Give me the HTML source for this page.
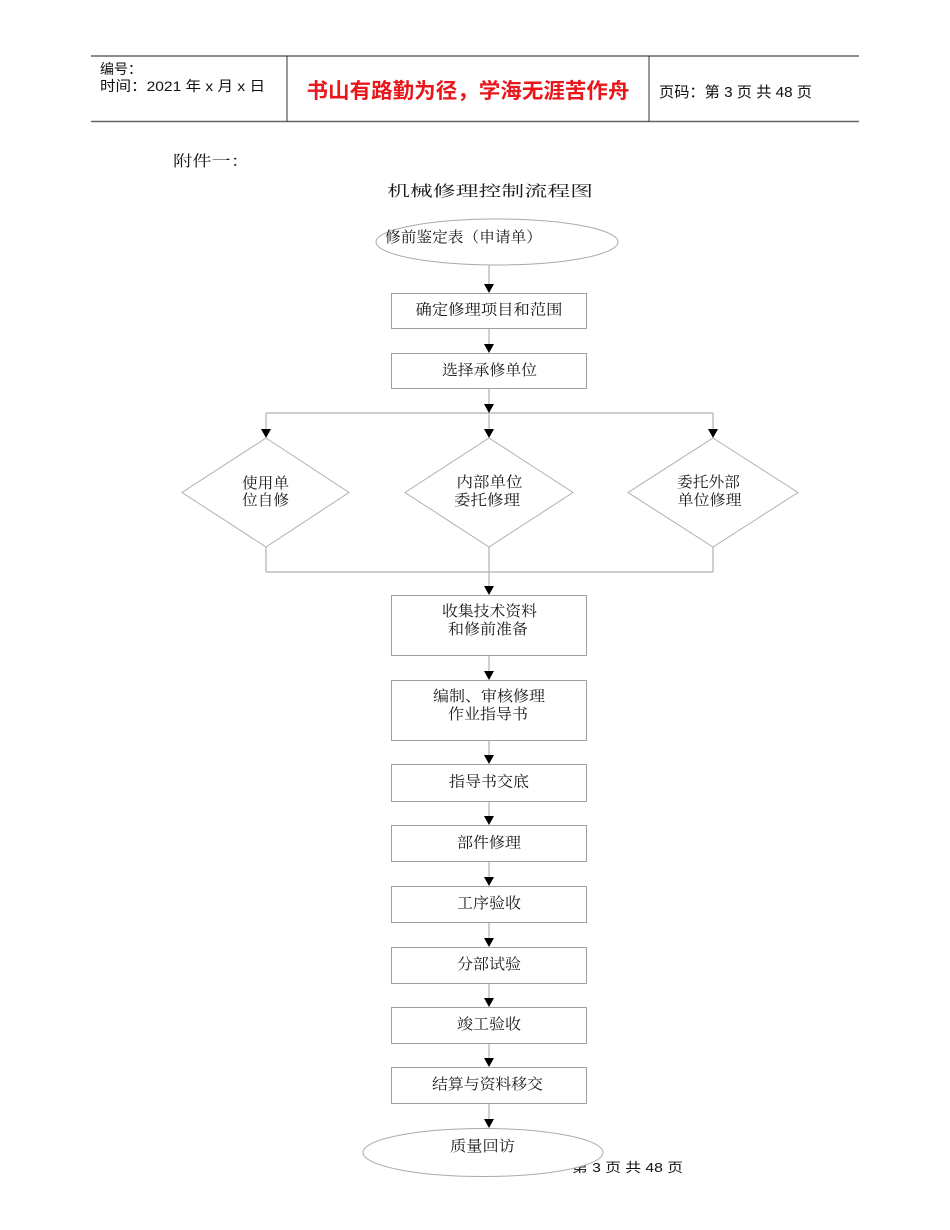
<!DOCTYPE html>
<html>
<head>
<meta charset="utf-8">
<style>
html,body{margin:0;padding:0;background:#fff;}
svg{display:block;}
.hd{font-family:"Liberation Sans","Noto Sans CJK SC",sans-serif;fill:#111;}
.fl{font-family:"Liberation Serif","Noto Serif CJK SC",serif;fill:#1a1a1a;font-size:15px;}
</style>
</head>
<body>
<svg width="950" height="1230" viewBox="0 0 950 1230" xmlns="http://www.w3.org/2000/svg">
<rect width="950" height="1230" fill="#fff"/>
<!-- header -->
<line x1="91" y1="56" x2="859" y2="56" stroke="#666" stroke-width="1.6"/>
<line x1="91" y1="121.5" x2="859" y2="121.5" stroke="#666" stroke-width="1.6"/>
<line x1="287" y1="56" x2="287" y2="121.5" stroke="#333" stroke-width="1"/>
<line x1="649" y1="56" x2="649" y2="121.5" stroke="#333" stroke-width="1"/>
<text class="hd" x="100" y="74" font-size="14">编号：</text>
<text class="hd" x="100" y="91" font-size="14" textLength="165" lengthAdjust="spacingAndGlyphs">时间：2021 年 x 月 x 日</text>
<text x="468" y="98" text-anchor="middle" font-family="'Liberation Sans','Noto Sans CJK SC',sans-serif" font-weight="bold" font-size="21" fill="#e8171c" textLength="323" lengthAdjust="spacingAndGlyphs">书山有路勤为径，学海无涯苦作舟</text>
<text class="hd" x="659" y="97" font-size="15" textLength="153" lengthAdjust="spacingAndGlyphs">页码：第 3 页  共 48 页</text>

<text class="fl" x="173" y="166" font-size="20" textLength="77" lengthAdjust="spacingAndGlyphs">附件一：</text>
<text class="fl" x="387" y="196" font-size="21" textLength="206" lengthAdjust="spacingAndGlyphs">机械修理控制流程图</text>

<!-- connectors -->
<g stroke="#b0b0b0" stroke-width="1.2" fill="none">
<line x1="489" y1="265" x2="489" y2="290"/>
<line x1="489" y1="328" x2="489" y2="350"/>
<line x1="489" y1="389" x2="489" y2="413"/>
<line x1="266" y1="413" x2="713" y2="413"/>
<line x1="266" y1="413" x2="266" y2="436"/>
<line x1="489" y1="413" x2="489" y2="436"/>
<line x1="713" y1="413" x2="713" y2="436"/>
<line x1="266" y1="547" x2="266" y2="572"/>
<line x1="489" y1="547" x2="489" y2="572"/>
<line x1="713" y1="547" x2="713" y2="572"/>
<line x1="266" y1="572" x2="713" y2="572"/>
<line x1="489" y1="572" x2="489" y2="593"/>
<line x1="489" y1="656" x2="489" y2="678"/>
<line x1="489" y1="740" x2="489" y2="762"/>
<line x1="489" y1="801" x2="489" y2="823"/>
<line x1="489" y1="862" x2="489" y2="884"/>
<line x1="489" y1="922" x2="489" y2="945"/>
<line x1="489" y1="983" x2="489" y2="1005"/>
<line x1="489" y1="1043" x2="489" y2="1065"/>
<line x1="489" y1="1103" x2="489" y2="1126"/>
</g>

<!-- arrowheads -->
<g fill="#000">
<polygon points="484,284 494,284 489,293"/>
<polygon points="484,344 494,344 489,353"/>
<polygon points="484,404 494,404 489,413"/>
<polygon points="261,429 271,429 266,438"/>
<polygon points="484,429 494,429 489,438"/>
<polygon points="708,429 718,429 713,438"/>
<polygon points="484,586 494,586 489,595"/>
<polygon points="484,671 494,671 489,680"/>
<polygon points="484,755 494,755 489,764"/>
<polygon points="484,816 494,816 489,825"/>
<polygon points="484,877 494,877 489,886"/>
<polygon points="484,938 494,938 489,947"/>
<polygon points="484,998 494,998 489,1007"/>
<polygon points="484,1058 494,1058 489,1067"/>
<polygon points="484,1119 494,1119 489,1128"/>
</g>

<!-- start ellipse -->
<ellipse cx="497" cy="242" rx="121" ry="23" fill="#fff" stroke="#aaa" stroke-width="1"/>
<text class="fl" x="385" y="238" dominant-baseline="central" textLength="157" lengthAdjust="spacingAndGlyphs">修前鉴定表（申请单）</text>

<!-- boxes -->
<g fill="#fff" stroke="#a0a0a0" stroke-width="1">
<rect x="391.5" y="293.5" width="195" height="35"/>
<rect x="391.5" y="353.5" width="195" height="35"/>
<rect x="391.5" y="595.5" width="195" height="60"/>
<rect x="391.5" y="680.5" width="195" height="60"/>
<rect x="391.5" y="764.5" width="195" height="37"/>
<rect x="391.5" y="825.5" width="195" height="36"/>
<rect x="391.5" y="886.5" width="195" height="36"/>
<rect x="391.5" y="947.5" width="195" height="36"/>
<rect x="391.5" y="1007.5" width="195" height="36"/>
<rect x="391.5" y="1067.5" width="195" height="36"/>
</g>

<!-- diamonds -->
<g fill="#fff" stroke="#b0b0b0" stroke-width="1">
<polygon points="266,438 349,492.5 266,547 182,492.5"/>
<polygon points="489,438 573,492.5 489,547 405,492.5"/>
<polygon points="713,438 798,492.5 713,547 628,492.5"/>
</g>

<g class="fl" text-anchor="middle" dominant-baseline="central">
<text x="489" y="310.5" textLength="147" lengthAdjust="spacingAndGlyphs">确定修理项目和范围</text>
<text x="489.5" y="371" textLength="95" lengthAdjust="spacingAndGlyphs">选择承修单位</text>
<text x="489.5" y="612" textLength="95" lengthAdjust="spacingAndGlyphs">收集技术资料</text>
<text x="488" y="630" textLength="80" lengthAdjust="spacingAndGlyphs">和修前准备</text>
<text x="489" y="697" textLength="112" lengthAdjust="spacingAndGlyphs">编制、审核修理</text>
<text x="488" y="715" textLength="80" lengthAdjust="spacingAndGlyphs">作业指导书</text>
<text x="489" y="782.5" textLength="80" lengthAdjust="spacingAndGlyphs">指导书交底</text>
<text x="489" y="843.5" textLength="64" lengthAdjust="spacingAndGlyphs">部件修理</text>
<text x="489" y="904" textLength="64" lengthAdjust="spacingAndGlyphs">工序验收</text>
<text x="489" y="965" textLength="64" lengthAdjust="spacingAndGlyphs">分部试验</text>
<text x="489" y="1025" textLength="64" lengthAdjust="spacingAndGlyphs">竣工验收</text>
<text x="487.5" y="1085" textLength="111" lengthAdjust="spacingAndGlyphs">结算与资料移交</text>
<text x="265.5" y="484" textLength="47" lengthAdjust="spacingAndGlyphs">使用单</text>
<text x="265.5" y="501" textLength="47" lengthAdjust="spacingAndGlyphs">位自修</text>
<text x="489.5" y="483" textLength="66" lengthAdjust="spacingAndGlyphs">内部单位</text>
<text x="487" y="501" textLength="66" lengthAdjust="spacingAndGlyphs">委托修理</text>
<text x="708.5" y="483" textLength="63" lengthAdjust="spacingAndGlyphs">委托外部</text>
<text x="709.5" y="501" textLength="64" lengthAdjust="spacingAndGlyphs">单位修理</text>
</g>

<!-- footer (partly under ellipse) -->
<text x="572" y="1172" font-family="'Liberation Sans','Noto Sans CJK SC',sans-serif" font-size="13" fill="#111" textLength="111" lengthAdjust="spacingAndGlyphs">第 3 页 共 48 页</text>

<!-- end ellipse -->
<ellipse cx="483" cy="1152.5" rx="120" ry="24" fill="#fff" stroke="#aaa" stroke-width="1"/>
<text class="fl" x="482.5" y="1147" text-anchor="middle" dominant-baseline="central" textLength="65" lengthAdjust="spacingAndGlyphs">质量回访</text>
</svg>
</body>
</html>
